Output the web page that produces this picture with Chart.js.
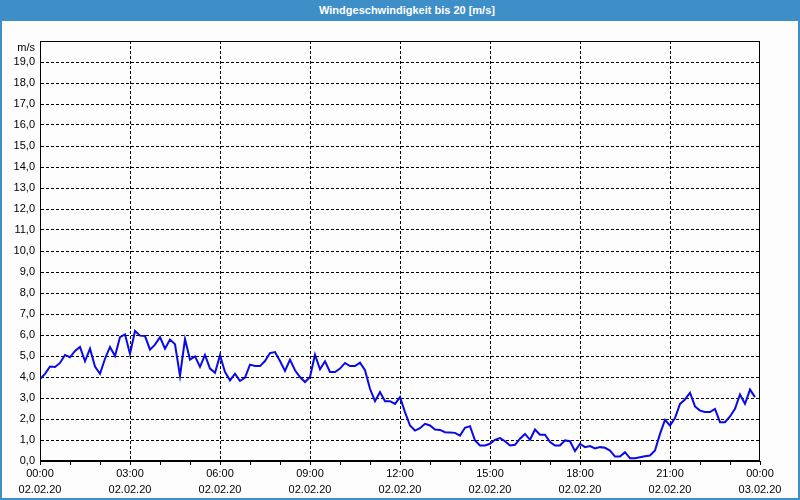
<!DOCTYPE html>
<html>
<head>
<meta charset="utf-8">
<script src="https://cdn.jsdelivr.net/npm/chart.js@4"></script>
<style>
  body { margin: 0; }
  #box { position: relative; width: 800px; height: 500px; background: #fcfdfc; }
  #box canvas { position: absolute; left: 0; top: 0; }
  #title {
    position: absolute; left: 0; top: 0; width: 800px; height: 21px;
    background: #3e8ec8; color: #fff; text-align: center;
    font: bold 11px "Liberation Sans", Arial, sans-serif; line-height: 21px;
    box-sizing: border-box; padding-left: 14px;
  }
  #frame {
    position: absolute; left: 0; top: 0; width: 800px; height: 500px;
    box-sizing: border-box; border: 2px solid #3e8ec8; pointer-events: none;
  }
</style>
</head>
<body>
<div id="box">
  <canvas id="chart" width="800" height="500"></canvas>
  <div id="title">Windgeschwindigkeit bis 20 [m/s]</div>
  <div id="frame"></div>
</div>
<script>
// Messwerte alle 10 Minuten, 02.02.20 00:00 bis 23:50
const stepMinutes = 10;
const windSpeed = [
  3.9, 4.15, 4.5, 4.48, 4.67, 5.05, 4.94, 5.24, 5.43, 4.75, 5.35, 4.5,
  4.15, 4.87, 5.43, 5.0, 5.9, 6.03, 5.1, 6.19, 5.97, 5.95, 5.3, 5.54,
  5.9, 5.35, 5.78, 5.56, 4.05, 5.8, 4.83, 4.98, 4.48, 5.05, 4.4, 4.2,
  5.03, 4.24, 3.84, 4.16, 3.81, 3.97, 4.59, 4.52, 4.52, 4.76, 5.14, 5.19,
  4.76, 4.29, 4.83, 4.32, 4.0, 3.76, 4.0, 5.06, 4.37, 4.75, 4.24, 4.24,
  4.4, 4.67, 4.52, 4.52, 4.68, 4.32, 3.44, 2.85, 3.28, 2.85, 2.85, 2.72,
  3.04, 2.33, 1.69, 1.45, 1.56, 1.77, 1.69, 1.5, 1.48, 1.37, 1.36, 1.34,
  1.21, 1.58, 1.66, 0.98, 0.74, 0.74, 0.82, 1.01, 1.09, 0.94, 0.74, 0.77,
  1.06, 1.29, 1.01, 1.5, 1.25, 1.25, 0.9, 0.74, 0.74, 0.98, 0.94, 0.47,
  0.82, 0.66, 0.71, 0.6, 0.66, 0.63, 0.5, 0.21, 0.21, 0.42, 0.13, 0.13,
  0.18, 0.23, 0.26, 0.5, 1.29, 1.96, 1.69, 2.04, 2.72, 2.93, 3.25, 2.6,
  2.4, 2.33, 2.33, 2.48, 1.85, 1.85, 2.12, 2.48, 3.17, 2.72, 3.4, 3.04
];

// Beschriftung der x-Achse (alle 3 Stunden)
const timeLabels = ['00:00', '03:00', '06:00', '09:00', '12:00', '15:00', '18:00', '21:00', '00:00'];
const dateLabels = ['02.02.20', '02.02.20', '02.02.20', '02.02.20', '02.02.20', '02.02.20', '02.02.20', '02.02.20', '03.02.20'];
const yUnit = 'm/s';

const points = windSpeed.map((v, i) => ({ x: i * stepMinutes, y: v }));
const tickFont = { family: '"Liberation Sans", Arial, sans-serif', size: 11 };

// Rahmen um die Zeichenfläche
const plotFrame = {
  id: 'plotFrame',
  afterDraw(chart) {
    const { ctx, chartArea: a } = chart;
    ctx.save();
    ctx.strokeStyle = '#000';
    ctx.lineWidth = 1;
    const l = Math.round(a.left) + 0.5, t = Math.round(a.top) + 0.5;
    const r = Math.round(a.right) - 0.5, b = Math.round(a.bottom) - 0.5;
    ctx.strokeRect(l, t, r - l, b - t);
    ctx.restore();
  }
};

new Chart(document.getElementById('chart'), {
  type: 'line',
  data: {
    datasets: [{
      data: points,
      borderColor: '#0a0ae6',
      borderWidth: 2,
      pointRadius: 0,
      tension: 0,
      fill: false
    }]
  },
  options: {
    responsive: false,
    animation: false,
    layout: { padding: { left: 0, top: 41, right: 40, bottom: 0 } },
    plugins: { legend: { display: false }, tooltip: { enabled: false } },
    scales: {
      x: {
        type: 'linear',
        min: 0,
        max: 1440,
        afterFit: (s) => { s.height = 39; },
        ticks: {
          stepSize: 60,
          autoSkip: false,
          maxRotation: 0,
          padding: 1,
          color: '#000',
          font: { ...tickFont, lineHeight: 16 / 11 },
          callback: (v) => {
            if (v % 180 !== 0) return '';
            const k = v / 180;
            return [timeLabels[k], dateLabels[k]];
          }
        },
        grid: {
          color: (c) => {
            const v = c.tick ? c.tick.value : 0;
            return (v % 180 === 0 && v > 0 && v < 1440) ? '#000' : 'rgba(0,0,0,0)';
          },
          tickColor: '#000',
          tickLength: 4,
          lineWidth: 1
        },
        border: { color: '#000', width: 1, dash: [3, 2] }
      },
      y: {
        min: 0,
        max: 20,
        afterFit: (s) => { s.width = 40; },
        ticks: {
          stepSize: 1,
          autoSkip: false,
          padding: 5,
          color: '#000',
          font: { ...tickFont, lineHeight: 1.2 },
          callback: (v) => v === 20 ? ['', yUnit] : v.toFixed(1).replace('.', ',')
        },
        grid: {
          drawTicks: false,
          color: (c) => {
            const v = c.tick ? c.tick.value : 0;
            return (v === 0 || v === 20) ? 'rgba(0,0,0,0)' : '#000';
          },
          lineWidth: 1
        },
        border: { color: '#000', width: 1, dash: [3, 2] }
      }
    }
  },
  plugins: [plotFrame]
});
</script>
</body>
</html>
